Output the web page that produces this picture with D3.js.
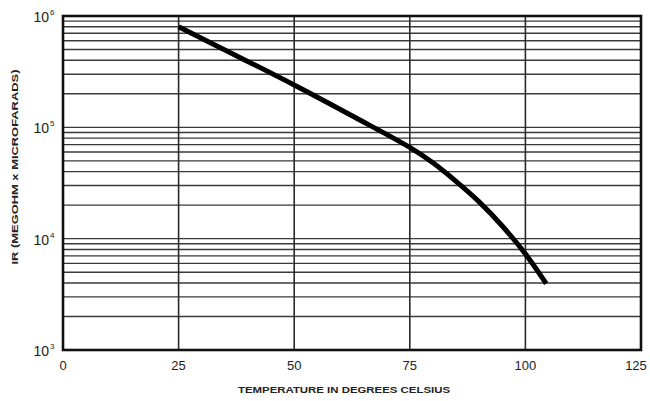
<!DOCTYPE html>
<html>
<head>
<meta charset="utf-8">
<script src="https://cdn.jsdelivr.net/npm/d3@7"></script>
<style>
  html, body { margin: 0; padding: 0; background: #fff; }
  svg { display: block; }
  text { font-family: "Liberation Sans", "DejaVu Sans", sans-serif; fill: #222; }
</style>
</head>
<body>
<svg id="chart" width="650" height="401"></svg>
<script>
// Insulation resistance vs temperature
const temps = [25, 37.5, 50, 62.5, 75, 80, 85, 90, 95, 100, 104.5];
const irValues = [8.0e5, 4.4e5, 2.4e5, 1.27e5, 6.6e4, 4.8e4, 3.27e4, 2.14e4, 1.3e4, 7.3e3, 3.95e3];

const xTicks = [0, 25, 50, 75, 100, 125];
const yDecades = [1e3, 1e4, 1e5, 1e6];
const yExponents = ["3", "4", "5", "6"];
const xTitle = "TEMPERATURE IN DEGREES CELSIUS";
const yTitle = "IR (MEGOHM x MICROFARADS)";

const svg = d3.select("#chart");
const plotLeft = 63, plotRight = 641, plotTop = 16, plotBottom = 350;

const x = d3.scaleLinear().domain([0, 125]).range([plotLeft, plotRight]);
const y = d3.scaleLog().domain([1e3, 1e6]).range([plotBottom, plotTop]);

// horizontal grid: 2..9 x each decade plus the inner decades
const gridVals = [];
yDecades.slice(0, 3).forEach(d => {
  for (let k = 2; k <= 9; k++) gridVals.push(k * d);
});
yDecades.slice(1, 3).forEach(d => gridVals.push(d));

const g = svg.append("g");

g.selectAll("line.h").data(gridVals).join("line")
  .attr("class", "h")
  .attr("x1", plotLeft).attr("x2", plotRight)
  .attr("y1", d => y(d)).attr("y2", d => y(d))
  .attr("stroke", "#3a3a3a").attr("stroke-width", 1.4);

g.selectAll("line.v").data(xTicks.slice(1, -1)).join("line")
  .attr("class", "v")
  .attr("y1", plotTop).attr("y2", plotBottom)
  .attr("x1", d => x(d)).attr("x2", d => x(d))
  .attr("stroke", "#2a2a2a").attr("stroke-width", 1.6);

// frame
g.append("rect")
  .attr("x", plotLeft).attr("y", plotTop)
  .attr("width", plotRight - plotLeft).attr("height", plotBottom - plotTop)
  .attr("fill", "none").attr("stroke", "#111").attr("stroke-width", 2.6);

// curve
const line = d3.line()
  .x((d, i) => x(temps[i]))
  .y(d => y(d))
  .curve(d3.curveCatmullRom.alpha(0.5));

g.append("path")
  .datum(irValues)
  .attr("d", line)
  .attr("fill", "none")
  .attr("stroke", "#000")
  .attr("stroke-width", 5)
  .attr("stroke-linecap", "butt");

// x tick labels (last one pulled in to stay inside the page)
g.selectAll("text.xt").data(xTicks).join("text")
  .attr("class", "xt")
  .attr("x", (d, i) => x(d) - (i === xTicks.length - 1 ? 5 : 0)).attr("y", 370)
  .attr("text-anchor", "middle")
  .attr("font-size", 13)
  .text(d => d);

// y decade labels with superscript exponent
const yl = g.selectAll("g.yl").data(yDecades).join("g")
  .attr("class", "yl")
  .attr("transform", d => `translate(${plotLeft - 6},${y(d)})`);
yl.append("text")
  .attr("x", -8).attr("y", 6)
  .attr("text-anchor", "end")
  .attr("font-size", 14)
  .text("10");
yl.append("text")
  .attr("x", -7).attr("y", -1)
  .attr("font-size", 8)
  .text((d, i) => yExponents[i]);

// axis titles
g.append("text")
  .attr("x", 344).attr("y", 393)
  .attr("text-anchor", "middle")
  .attr("font-size", 8.5).attr("font-weight", "bold")
  .attr("textLength", 212).attr("lengthAdjust", "spacingAndGlyphs")
  .text(xTitle);

g.append("text")
  .attr("transform", "translate(18,167) rotate(-90)")
  .attr("text-anchor", "middle")
  .attr("font-size", 8.5).attr("font-weight", "bold")
  .attr("textLength", 195).attr("lengthAdjust", "spacingAndGlyphs")
  .text(yTitle);
</script>
</body>
</html>
